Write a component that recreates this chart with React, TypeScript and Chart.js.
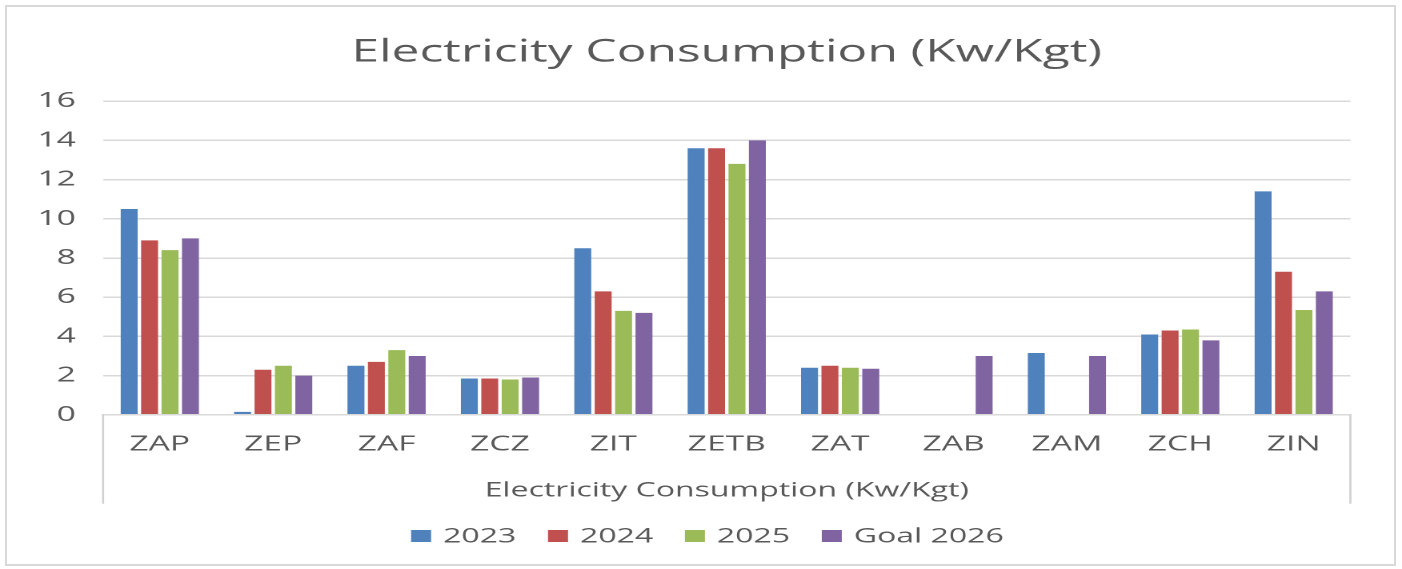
import React, { useEffect, useRef } from "react";
import { Chart, registerables } from "chart.js";

Chart.register(...registerables);

// ---- data ----
const categories = ["ZAP", "ZEP", "ZAF", "ZCZ", "ZIT", "ZETB", "ZAT", "ZAB", "ZAM", "ZCH", "ZIN"];
const values2023 = [10.5, 0.15, 2.5, 1.85, 8.5, 13.6, 2.4, null, 3.15, 4.1, 11.4];
const values2024 = [8.9, 2.3, 2.7, 1.85, 6.3, 13.6, 2.5, null, null, 4.3, 7.3];
const values2025 = [8.4, 2.5, 3.3, 1.8, 5.3, 12.8, 2.4, null, null, 4.35, 5.35];
const valuesGoal2026 = [9.0, 2.0, 3.0, 1.9, 5.2, 14.0, 2.35, 3.0, 3.0, 3.8, 6.3];
const seriesLabels = ["2023", "2024", "2025", "Goal 2026"];
const seriesColors = ["#4F81BD", "#C0504D", "#9BBB59", "#8064A2"];
const chartTitle = "Electricity Consumption (Kw/Kgt)";
const axisGroupLabel = "Electricity Consumption (Kw/Kgt)";
const yMin = 0;
const yMax = 16;
const yStep = 2;

// ---- layout ----
const FULL_W = 1402;
const FULL_H = 569;
const K = 1.6; // horizontal stretch of the reference
const W = Math.round(FULL_W / K);
const SX = FULL_W / W;
const FONT = "'Open Sans', 'DejaVu Sans', sans-serif";
const TEXT = "#595959";
const GRID = "#D9D9D9";

const multiLevelLines = {
  id: "multiLevelLines",
  afterDraw(chart: any) {
    const { ctx, chartArea } = chart;
    const bottom = chartArea.bottom + 89;
    ctx.save();
    ctx.strokeStyle = "#D0D0D0";
    ctx.lineWidth = 1.3;
    ctx.beginPath();
    ctx.moveTo(chartArea.left, chartArea.bottom);
    ctx.lineTo(chartArea.left, bottom);
    ctx.moveTo(chartArea.right, chartArea.bottom);
    ctx.lineTo(chartArea.right, bottom);
    ctx.stroke();
    ctx.restore();
  },
};

// legend drawn with Excel-like spacing (small gap between box and text)
const excelLegend = {
  id: "excelLegend",
  afterDraw(chart: any) {
    const { ctx } = chart;
    const boxW = 12.5;
    const boxH = 12;
    const gap = 7.5;
    const spacing = 19.8;
    const cy = chart.height - 33;
    ctx.save();
    ctx.font = `20px ${FONT}`;
    ctx.textBaseline = "middle";
    ctx.textAlign = "left";
    const items = chart.data.datasets.map((ds: any) => ({
      text: ds.label,
      color: ds.backgroundColor,
      w: ctx.measureText(ds.label).width,
    }));
    const total =
      items.reduce((s: number, it: any) => s + boxW + gap + it.w, 0) + spacing * (items.length - 1);
    let x = chart.width / 2 + 4 - total / 2;
    items.forEach((it: any) => {
      ctx.fillStyle = it.color;
      ctx.fillRect(x, cy - boxH / 2, boxW, boxH);
      x += boxW + gap;
      ctx.fillStyle = TEXT;
      ctx.fillText(it.text, x, cy + 1);
      x += it.w + spacing;
    });
    ctx.restore();
  },
};

export default function App() {
  const ref = useRef<HTMLCanvasElement | null>(null);

  useEffect(() => {
    if (!ref.current) return;
    const all = [values2023, values2024, values2025, valuesGoal2026];
    const chart = new Chart(ref.current, {
      type: "bar",
      data: {
        labels: categories,
        datasets: all.map((d, i) => ({
          label: seriesLabels[i],
          data: d,
          backgroundColor: seriesColors[i],
          borderWidth: 0,
          categoryPercentage: 0.72,
          barPercentage: 0.83,
        })),
      },
      plugins: [multiLevelLines, excelLegend],
      options: {
        animation: false,
        responsive: false,
        devicePixelRatio: 2,
        layout: { padding: { left: 6.4, right: 32.25, top: 0, bottom: 61 } },
        plugins: {
          title: {
            display: true,
            fullSize: false,
            text: chartTitle,
            color: TEXT,
            font: { family: FONT, size: 31, weight: "normal" },
            padding: { top: 34, bottom: 30 },
          },
          legend: { display: false },
          tooltip: { enabled: false },
        },
        scales: {
          x: {
            grid: { display: false, drawTicks: false },
            border: { display: true, color: GRID, width: 1.5 },
            ticks: { color: TEXT, font: { family: FONT, size: 21 }, padding: 17 },
            title: {
              display: true,
              text: axisGroupLabel,
              color: TEXT,
              font: { family: FONT, size: 20 },
              padding: { top: 5, bottom: 5 },
            },
          },
          y: {
            min: yMin,
            max: yMax,
            grid: { color: GRID, lineWidth: 1.5, drawTicks: false },
            border: { display: false },
            ticks: {
              stepSize: yStep,
              color: TEXT,
              font: { family: FONT, size: 21 },
              padding: 17,
            },
          },
        },
      },
    });
    return () => chart.destroy();
  }, []);

  return (
    <div
      style={{
        position: "absolute",
        left: 0,
        top: 0,
        width: FULL_W,
        height: FULL_H,
        overflow: "hidden",
        background: "#fff",
      }}
    >
      <div
        style={{
          position: "absolute",
          left: 0,
          top: 0,
          width: W,
          height: FULL_H,
          transform: `scaleX(${SX})`,
          transformOrigin: "0 0",
        }}
      >
        <canvas ref={ref} width={W} height={FULL_H} style={{ display: "block", width: W, height: FULL_H }} />
      </div>
      <div
        style={{
          position: "absolute",
          left: 5,
          top: 5,
          width: 1387,
          height: 557,
          border: "2px solid #D9D9D9",
          pointerEvents: "none",
        }}
      />
    </div>
  );
}
